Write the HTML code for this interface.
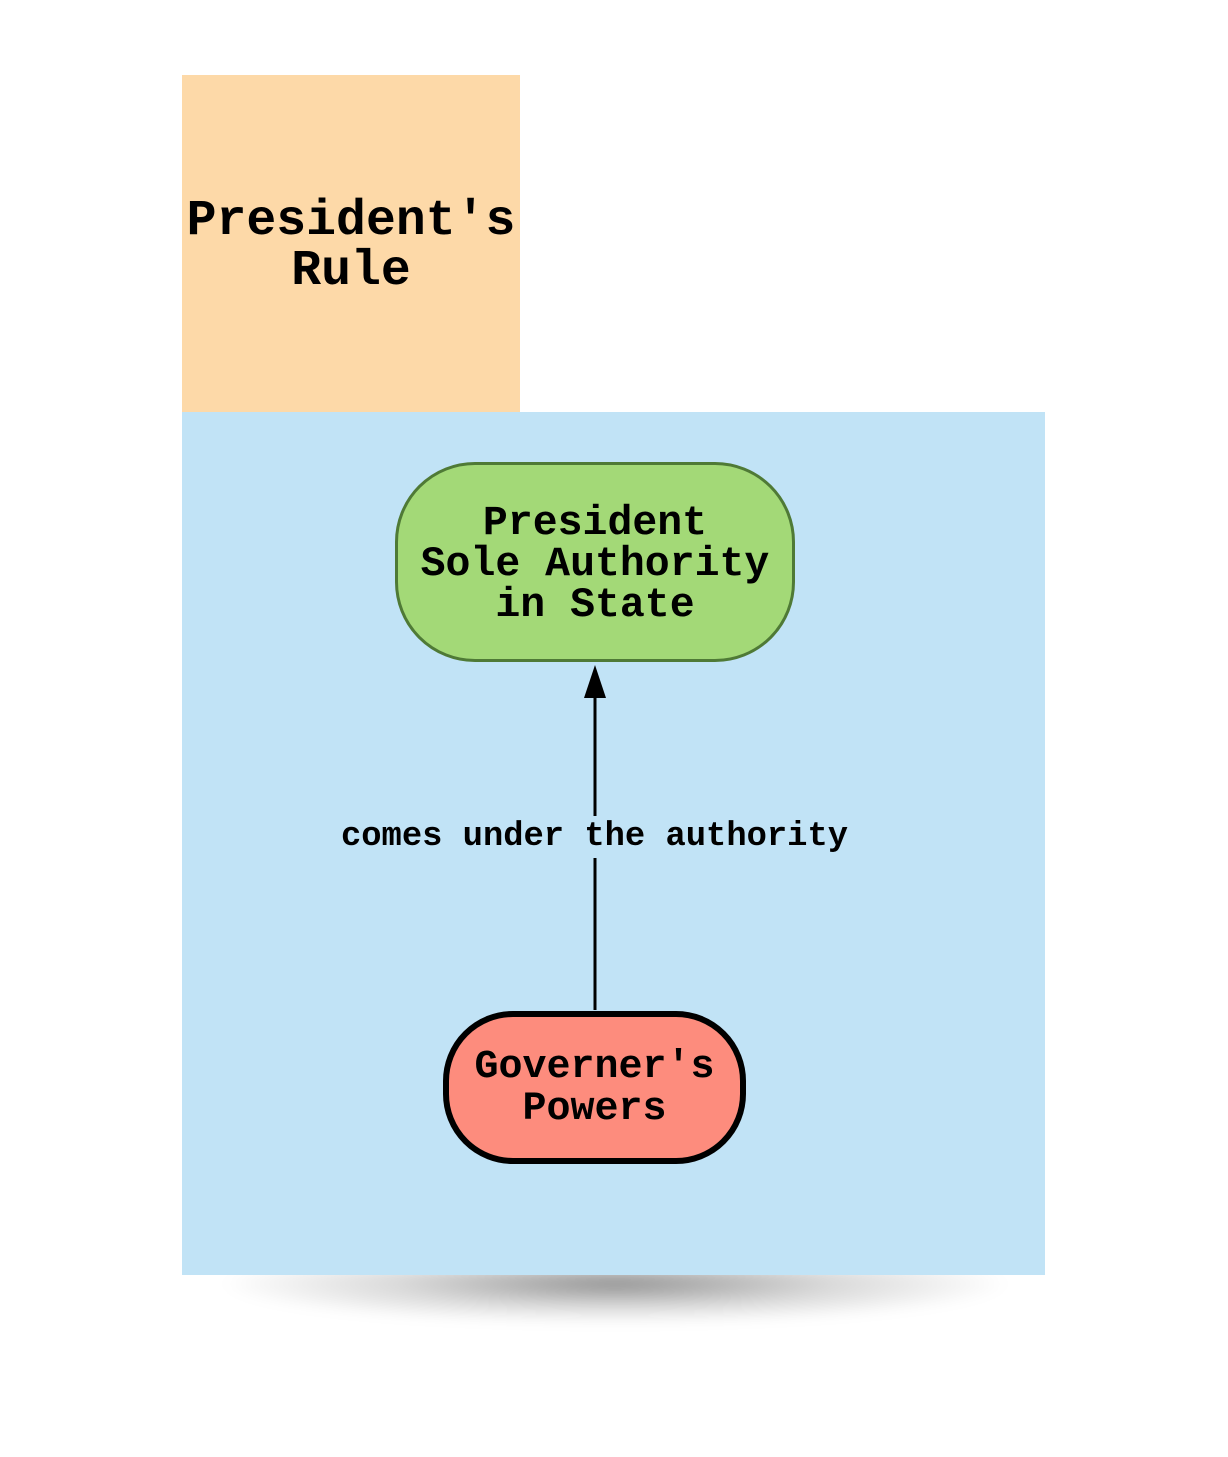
<!DOCTYPE html>
<html><head><style>
body{margin:0;width:1228px;height:1457px;background:#fff;position:relative;overflow:hidden;font-family:"Liberation Mono",monospace;font-weight:bold;color:#000}
div{position:absolute;box-sizing:border-box}
.t{text-align:center;white-space:pre;display:flex;align-items:center;justify-content:center}
</style></head><body>
<div style="left:220px;top:1268px;width:790px;height:80px;background:radial-gradient(ellipse 50% 50% at 50% 20%,rgba(0,0,0,0.42),rgba(0,0,0,0.15) 55%,rgba(0,0,0,0) 100%);filter:blur(6px)"></div>
<div style="left:182px;top:75px;width:338px;height:337px;background:#fdd9a8"></div>
<div class="t" style="left:182px;top:77px;width:338px;height:337px;font-size:49.8px;line-height:50px">President's
Rule</div>
<div style="left:182px;top:412px;width:863px;height:863px;background:#c1e3f6"></div>
<div class="t" style="left:395px;top:462px;width:400px;height:200px;background:#a3d977;border:3px solid #4f7a36;border-radius:80px;font-size:41.5px;line-height:41px;padding-top:4px">President
Sole Authority
in State</div>
<svg style="position:absolute;left:0;top:0" width="1228" height="1457">
<line x1="595" y1="1010" x2="595" y2="690" stroke="#000" stroke-width="3"/>
<polygon points="595,665 584,698 606,698" fill="#000"/>
</svg>
<div class="t" style="left:332px;top:816px;width:525px;height:42px;font-size:33.8px;background:#c1e3f6">comes under the authority</div>
<div class="t" style="left:443px;top:1011px;width:303px;height:153px;background:#fd8c7d;border:6px solid #000;border-radius:70px;font-size:40px;line-height:42px;padding-top:2px">Governer's
Powers</div>
</body></html>
